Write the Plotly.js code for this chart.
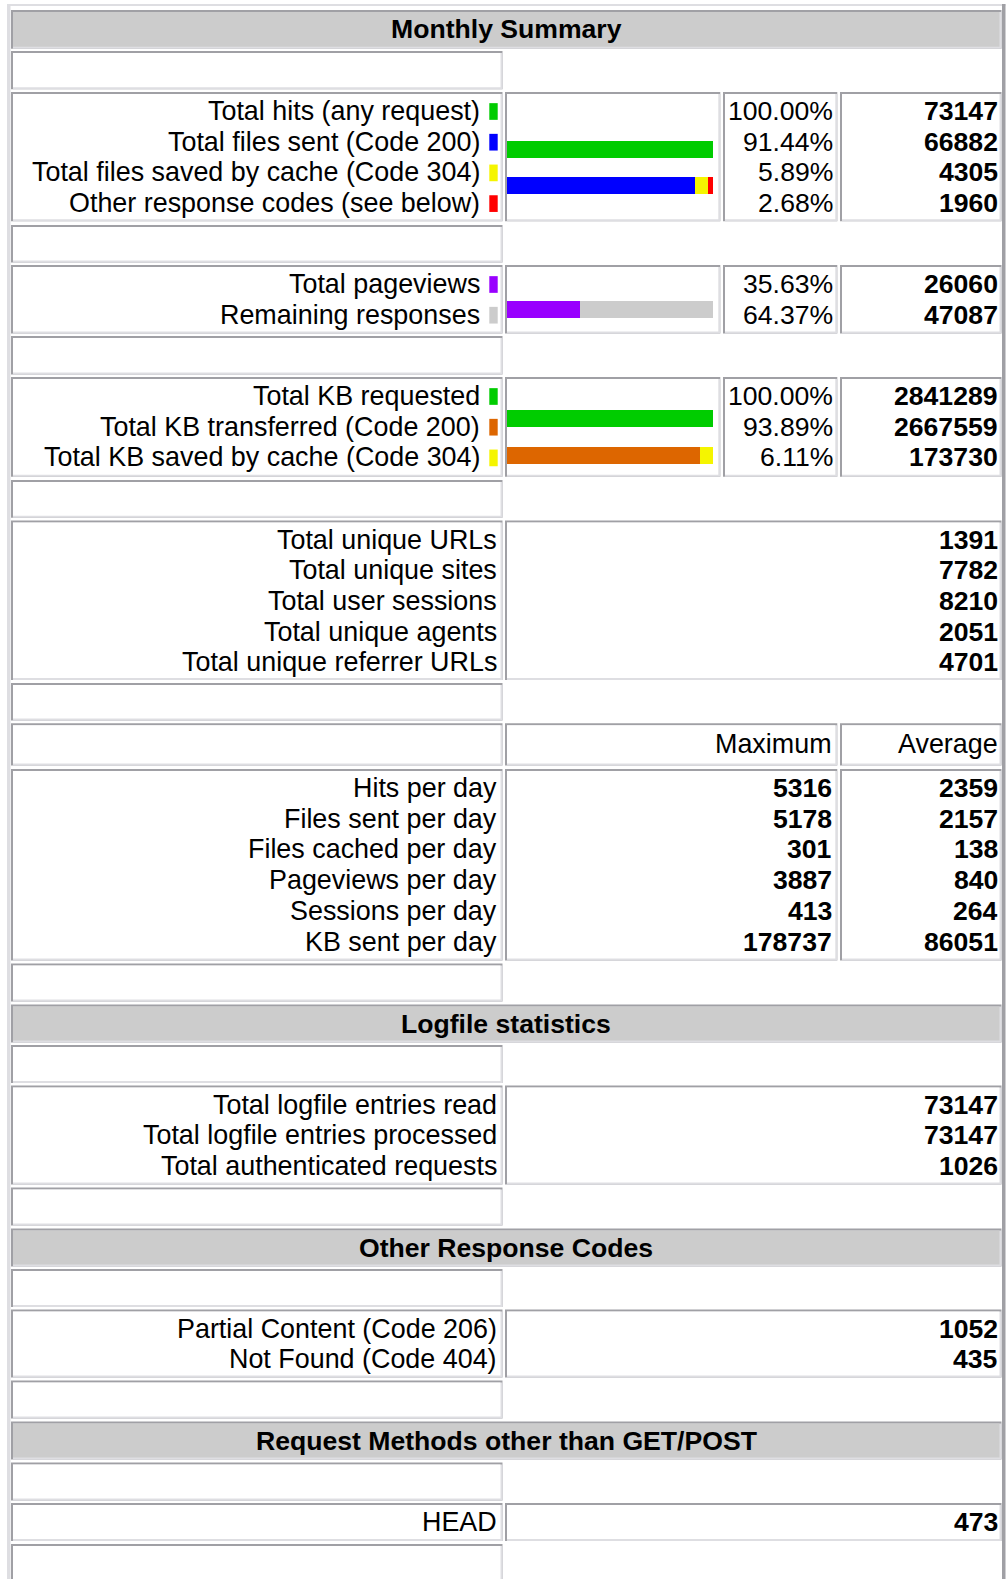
<!DOCTYPE html>
<html><head><meta charset="utf-8">
<script src="https://cdn.plot.ly/plotly-3.0.1.min.js"></script>
<style>html,body{margin:0;padding:0;background:#fff;}#chart{width:1008px;height:1579px;}</style>
</head><body><div id="chart"></div>
<script>
// ================= DATA =================
const sectionTitles = ["Monthly Summary", "Logfile statistics", "Other Response Codes", "Request Methods other than GET/POST"];

const hitsLabels = ["Total hits (any request)", "Total files sent (Code 200)", "Total files saved by cache (Code 304)", "Other response codes (see below)"];
const hitsPercent = [100.00, 91.44, 5.89, 2.68];
const hitsValues = [73147, 66882, 4305, 1960];

const pageviewLabels = ["Total pageviews", "Remaining responses"];
const pageviewPercent = [35.63, 64.37];
const pageviewValues = [26060, 47087];

const kbLabels = ["Total KB requested", "Total KB transferred (Code 200)", "Total KB saved by cache (Code 304)"];
const kbPercent = [100.00, 93.89, 6.11];
const kbValues = [2841289, 2667559, 173730];

const uniqueLabels = ["Total unique URLs", "Total unique sites", "Total user sessions", "Total unique agents", "Total unique referrer URLs"];
const uniqueValues = [1391, 7782, 8210, 2051, 4701];

const dailyColumns = ["Maximum", "Average"];
const dailyLabels = ["Hits per day", "Files sent per day", "Files cached per day", "Pageviews per day", "Sessions per day", "KB sent per day"];
const dailyMaximum = [5316, 5178, 301, 3887, 413, 178737];
const dailyAverage = [2359, 2157, 138, 840, 264, 86051];

const logfileLabels = ["Total logfile entries read", "Total logfile entries processed", "Total authenticated requests"];
const logfileValues = [73147, 73147, 1026];

const responseCodeLabels = ["Partial Content (Code 206)", "Not Found (Code 404)"];
const responseCodeValues = [1052, 435];

const methodLabels = ["HEAD"];
const methodValues = [473];

// bar rows (which data items share a bar line)
const hitsBarRows = ["all hits", "by response code"];
const pageviewBarRows = ["pageviews vs remaining"];
const kbBarRows = ["all KB", "by response code"];

// ================= STYLE =================
const hitsColors = ["#00cc00", "#0000ff", "#f5f500", "#ff0000"];
const pageviewColors = ["#9900ff", "#cccccc"];
const kbColors = ["#00cc00", "#dd6600", "#f5f500"];
const DARK = "#a0a0a5", LIGHT = "#dedee2", HEADFILL = "#cccccc";
const FONT = "Liberation Sans, Arial, Helvetica, sans-serif";
const FS_NUM = 26.6, FS_LABEL = 26.9;

// ================= GEOMETRY (pixels) =================
const W = 1008, H = 1579;
const COL = {
  label: [11, 502.5], bar: [505, 720.3], pct: [723, 837.3], val: [840, 1001.5],
  wide: [505, 837.3], full: [11, 1001.5]
};
const rows = [
  [10, 48.8], [51, 89.3], [92, 221.3], [225, 262.5], [265, 333.5], [336, 374.5],
  [377, 476.8], [480, 517.7], [520.5, 680], [683, 720.5], [723.3, 765.5], [769, 960.5],
  [963.5, 1001.5], [1004.5, 1042.5], [1045, 1083], [1085.5, 1184.5], [1187.5, 1225.5],
  [1228.5, 1266.5], [1269, 1307], [1309.5, 1377.5], [1380.5, 1418.5], [1421.5, 1459.5],
  [1462.5, 1500.5], [1503, 1541], [1544, 1583]
];
const LINE0 = 19, LINEH = 30.7;
const X_LABEL_SW = 480, X_LABEL = 496.5, X_PCT = 833.3, X_MAX = 831.5, X_VAL = 998;
const SW = [489.3, 497.7], SWH = 16.7;

const shapes = [], annotations = [];

function rect(x0, y0, x1, y1, fill) {
  shapes.push({type: 'rect', xref: 'x', yref: 'y', x0, y0, x1, y1, fillcolor: fill, line: {width: 0}, layer: 'below'});
}
function cell(col, r, fill) {
  const [x0, x1] = col, [y0, y1] = r;
  rect(x0, y0, x1, y1, DARK);
  rect(x0 + 2, y0 + 2, x1, y1, LIGHT);
  rect(x0 + 2, y0 + 2, x1 - 2, y1 - 2, fill || '#ffffff');
}
function txt(x, y, s, anchor, bold, size) {
  annotations.push({xref: 'x', yref: 'y', x, y, text: bold ? '<b>' + s + '</b>' : s,
    xanchor: anchor, yanchor: 'middle', showarrow: false, borderpad: 0, borderwidth: 0,
    font: {family: FONT, size: size || FS_NUM, color: '#000'}});
}
const lineY = (r, i) => r[0] + LINE0 + i * LINEH;
const mid = r => (r[0] + r[1]) / 2;
const pct = v => v.toFixed(2) + '%';

// outer table border (outset)
rect(7, 4, 1005.5, 6, LIGHT);
rect(7, 4, 10.5, H + 10, LIGHT);
rect(1002, 4, 1005.5, H + 10, DARK);

function header(r, title) {
  cell(COL.full, r, HEADFILL);
  txt((COL.full[0] + COL.full[1]) / 2, mid(r), title, 'center', true, FS_NUM);
}
function spacer(r) { cell(COL.label, r); }
function barBlock(r, labels, percents, values, colors) {
  cell(COL.label, r); cell(COL.bar, r); cell(COL.pct, r); cell(COL.val, r);
  labels.forEach((l, i) => {
    const y = lineY(r, i);
    txt(X_LABEL_SW, y, l, 'right', false, FS_LABEL);
    rect(SW[0], y + 0.5 - SWH / 2, SW[1], y + 0.5 + SWH / 2, colors[i]);
    txt(X_PCT, y, pct(percents[i]), 'right', false);
    txt(X_VAL, y, String(values[i]), 'right', true);
  });
}
function twoCol(r, labels, values) {
  cell(COL.label, r); cell([COL.bar[0], COL.val[1]], r);
  labels.forEach((l, i) => {
    const y = lineY(r, i);
    txt(X_LABEL, y, l, 'right', false, FS_LABEL);
    txt(X_VAL, y, String(values[i]), 'right', true);
  });
}

header(rows[0], sectionTitles[0]);
spacer(rows[1]);
barBlock(rows[2], hitsLabels, hitsPercent, hitsValues, hitsColors);
spacer(rows[3]);
barBlock(rows[4], pageviewLabels, pageviewPercent, pageviewValues, pageviewColors);
spacer(rows[5]);
barBlock(rows[6], kbLabels, kbPercent, kbValues, kbColors);
spacer(rows[7]);
twoCol(rows[8], uniqueLabels, uniqueValues);
spacer(rows[9]);
// daily header
cell(COL.label, rows[10]); cell(COL.wide, rows[10]); cell(COL.val, rows[10]);
txt(X_MAX, mid(rows[10]), dailyColumns[0], 'right', false, FS_LABEL);
txt(X_VAL, mid(rows[10]), dailyColumns[1], 'right', false, FS_LABEL);
// daily block
cell(COL.label, rows[11]); cell(COL.wide, rows[11]); cell(COL.val, rows[11]);
dailyLabels.forEach((l, i) => {
  const y = lineY(rows[11], i);
  txt(X_LABEL, y, l, 'right', false, FS_LABEL);
  txt(X_MAX, y, String(dailyMaximum[i]), 'right', true);
  txt(X_VAL, y, String(dailyAverage[i]), 'right', true);
});
spacer(rows[12]);
header(rows[13], sectionTitles[1]);
spacer(rows[14]);
twoCol(rows[15], logfileLabels, logfileValues);
spacer(rows[16]);
header(rows[17], sectionTitles[2]);
spacer(rows[18]);
twoCol(rows[19], responseCodeLabels, responseCodeValues);
spacer(rows[20]);
header(rows[21], sectionTitles[3]);
spacer(rows[22]);
twoCol(rows[23], methodLabels, methodValues);
spacer(rows[24]);

// ================= BARS =================
const pxDom = (top, bottom) => [1 - bottom / H, 1 - top / H];
const BAR_X = [507, 713];
const traces = [{type: 'scatter', x: [0], y: [0], mode: 'markers', marker: {opacity: 0}, hoverinfo: 'skip', showlegend: false}];
function bar(xv, row, color, yax, width) {
  traces.push({type: 'bar', orientation: 'h', x: [xv], y: [row], xaxis: 'x2', yaxis: yax,
    width: width, marker: {color: color, line: {width: 0}}, hoverinfo: 'skip', showlegend: false});
}
// hits
bar(hitsPercent[0], hitsBarRows[0], hitsColors[0], 'y2', 16.7 / 36);
for (let i = 1; i < hitsPercent.length; i++) bar(hitsPercent[i], hitsBarRows[1], hitsColors[i], 'y2', 16.7 / 36);
// pageviews
pageviewPercent.forEach((p, i) => bar(p, pageviewBarRows[0], pageviewColors[i], 'y3', 16.7 / 36));
// KB
bar(kbPercent[0], kbBarRows[0], kbColors[0], 'y4', 16.7 / 37);
for (let i = 1; i < kbPercent.length; i++) bar(kbPercent[i], kbBarRows[1], kbColors[i], 'y4', 16.7 / 37);

const hid = {visible: false, showgrid: false, zeroline: false, fixedrange: true};
const layout = {
  width: W, height: H, margin: {l: 0, r: 0, t: 0, b: 0, pad: 0},
  paper_bgcolor: '#ffffff', plot_bgcolor: 'rgba(0,0,0,0)',
  barmode: 'stack', showlegend: false,
  xaxis: Object.assign({range: [0, W], domain: [0, 1]}, hid),
  yaxis: Object.assign({range: [H, 0], domain: [0, 1]}, hid),
  xaxis2: Object.assign({range: [0, 100], domain: [BAR_X[0] / W, BAR_X[1] / W], anchor: 'y2'}, hid),
  yaxis2: Object.assign({type: 'category', categoryorder: 'array', categoryarray: hitsBarRows, range: [1.5, -0.5], domain: pxDom(131.35, 203.35), anchor: 'x2'}, hid),
  yaxis3: Object.assign({type: 'category', categoryorder: 'array', categoryarray: pageviewBarRows, range: [0.5, -0.5], domain: pxDom(291.35, 327.35), anchor: 'x2'}, hid),
  yaxis4: Object.assign({type: 'category', categoryorder: 'array', categoryarray: kbBarRows, range: [1.5, -0.5], domain: pxDom(399.85, 473.85), anchor: 'x2'}, hid),
  shapes: shapes, annotations: annotations
};
Plotly.newPlot('chart', traces, layout, {staticPlot: true, displayModeBar: false});
</script>
</body></html>
